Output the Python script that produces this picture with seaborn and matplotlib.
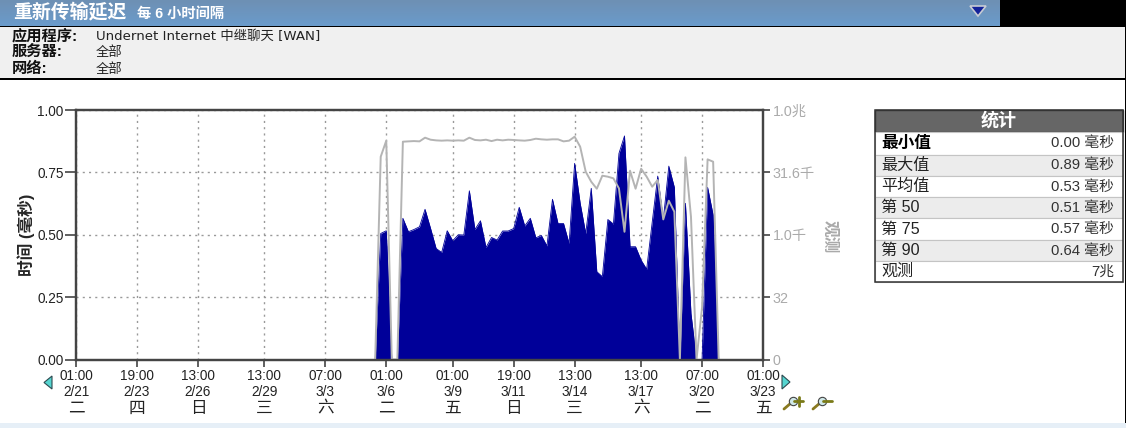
import numpy as np
import pandas as pd
import seaborn as sns
import matplotlib.dates as mdates
import matplotlib.pyplot as plt
from matplotlib.patches import Polygon, Rectangle

# values, one sample every 6 hours starting 3/5 13:00
retrans_ms = [0, .505, .516, 0, 0, .566, .512, .521, .532, .602, .525, .445, .429, .516, .476, .500,
              .499, .676, .521, .556, .449, .489, .479, .515, .515, .525, .610, .535, .566, .488,
              .497, .455, .642, .545, .545, .465, .786, .626, .505, .686, .352, .332, .561, .543,
              .826, .896, .452, .452, .398, .362, .550, .735, .559, .775, .690, 0, .626, .184,
              0, 0, .690, .579, 0]
# 1 sits on the bottom of the log axis, which the chart labels 0
observations = [1, 75300, 183000, 1, 1, 173000, 176000, 179000, 176000, 216000, 193000, 186000,
                183000, 186000, 183000, 186000, 183000, 216000, 190000, 186000, 193000, 179000,
                193000, 186000, 193000, 190000, 186000, 183000, 190000, 204000, 197000, 193000,
                197000, 197000, 176000, 183000, 228000, 131000, 32800, 18800, 12800, 26300, 24900,
                22700, 13000, 1180, 34700, 12800, 38700, 24900, 14300, 20700, 2340, 6580, 3570, 1,
                72600, 2710, 1, 18, 65000, 57100, 1]

tick_times = ['2012-02-21 01:00', '2012-02-23 19:00', '2012-02-26 13:00', '2012-02-29 13:00',
              '2012-03-03 07:00', '2012-03-06 01:00', '2012-03-09 01:00', '2012-03-11 19:00',
              '2012-03-14 13:00', '2012-03-17 13:00', '2012-03-20 07:00', '2012-03-23 01:00']
tick_hours = ['01:00', '19:00', '13:00', '13:00', '07:00', '01:00', '01:00', '19:00', '13:00', '13:00', '07:00', '01:00']
tick_dates = ['2/21', '2/23', '2/26', '2/29', '3/3', '3/6', '3/9', '3/11', '3/14', '3/17', '3/20', '3/23']
tick_days = ['二', '四', '日', '三', '六', '二', '五', '日', '三', '六', '二', '五']

left_ticks = [0, .25, .5, .75, 1]
left_labels = ['0.00', '0.25', '0.50', '0.75', '1.00']
right_ticks = [1, 10 ** 1.5, 1e3, 10 ** 4.5, 1e6]
right_labels = ['0', '32', '1.0千', '31.6千', '1.0兆']

info_keys = ['应用程序:', '服务器:', '网络:']
info_values = ['Undernet Internet 中继聊天 [WAN]', '全部', '全部']
stat_names = ['最小值', '最大值', '平均值', '第 50', '第 75', '第 90', '观测']
stat_values = ['0.00 毫秒', '0.89 毫秒', '0.53 毫秒', '0.51 毫秒', '0.57 毫秒', '0.64 毫秒', '7兆']

sns.set_style('white')
FONTS = ['Liberation Sans', 'Noto Sans CJK SC']
plt.rcParams['font.family'] = FONTS

W, H = 1126, 428
df = pd.DataFrame({'time': pd.date_range('2012-03-05 13:00', periods=len(retrans_ms), freq='6h'),
                   'ms': retrans_ms, 'obs': observations})
ticks = pd.to_datetime(tick_times)

fig = plt.figure(figsize=(W / 100, H / 100), dpi=100, facecolor='white')

# page furniture, drawn in pixel coordinates
bg = fig.add_axes([0, 0, 1, 1], zorder=0)
bg.set_xlim(0, W)
bg.set_ylim(H, 0)
bg.axis('off')

bg.add_patch(Rectangle((1000, 0), 126, 26, color='black', lw=0))
grad = np.linspace(0, 1, 26)[:, None, None]
c1, c2 = np.array([0x6e, 0x90, 0xb4]) / 255, np.array([0x6a, 0x9b, 0xcb]) / 255
bg.imshow(c1 + (c2 - c1) * grad, extent=(0, 1000, 26, 0), aspect='auto', zorder=1)
bg.set_xlim(0, W)
bg.set_ylim(H, 0)
bg.add_patch(Rectangle((0, 27), 1125, 51, color='#f0f0f0', lw=0))
bg.add_patch(Rectangle((0, 26), 1126, 1.2, color='black', lw=0))
bg.add_patch(Rectangle((0, 78), 1126, 1.8, color='black', lw=0))
bg.add_patch(Rectangle((1125, 26), 1, 397, color='black', lw=0))
bg.add_patch(Rectangle((0, 423), W, 5, color='#e6eff7', lw=0))
bg.add_patch(Polygon([[970, 6], [986, 6], [978, 16]], fc='#14239a', ec='#c8ccd4', lw=1.2, zorder=3))

bg.text(13, 13, '重新传输延迟', color='white', fontsize=13.6, fontweight='bold', va='center', zorder=4)
bg.text(137, 14, '每 6 小时间隔', color='white', fontsize=10.3, fontweight='bold', va='center', zorder=4)
for key, value, y in zip(info_keys, info_values, [36, 52, 69]):
    bg.text(12, y, key, fontsize=11, fontweight='bold', color='#111111', va='center')
    bg.text(96, y, value, fontsize=9.6, color='#222222', va='center',
            family=['DejaVu Sans', 'Noto Sans CJK SC'])

# stats table
bg.add_patch(Rectangle((875, 110), 248, 22, fc='#666666', ec='#333333', lw=1, zorder=2))
bg.text(999, 120.5, '统计', color='white', fontsize=13, fontweight='bold', ha='center', va='center', zorder=3)
edges = [132, 155, 176, 197, 218, 240, 261, 282]
for i, (name, value) in enumerate(zip(stat_names, stat_values)):
    fc = '#ececec' if i % 2 else 'white'
    bg.add_patch(Rectangle((875, edges[i]), 248, edges[i + 1] - edges[i], fc=fc, ec='#c4c4c4', lw=0.8, zorder=2))
    y = (edges[i] + edges[i + 1]) / 2
    bg.text(881, y, name, fontsize=11.6 if i else 12, color='black' if i == 0 else '#222222',
            fontweight='bold' if i == 0 else 'normal', va='center', zorder=3)
    bg.text(1114, y, value, fontsize=10.7, color='#333333', ha='right', va='center', zorder=3)
bg.add_patch(Rectangle((875, 110), 248, 172, fc='none', ec='#333333', lw=1.1, zorder=4))

# paging arrows
for pts in ([[52, 376], [52, 389], [44, 382.5]], [[782, 375], [782, 389], [790, 382]]):
    bg.add_patch(Polygon(pts, fc='#55d5d0', ec='#2d4a50', lw=0.8, zorder=3))

# zoom icons
for x0, plus in ((784, True), (813, False)):
    bg.plot([x0, x0 + 7], [409, 403], color='#8a7a20', lw=2, zorder=3)
    bg.plot([x0 + 8.5], [401], 'o', ms=6, mfc='#cfe8e8', mec='#444444', mew=0.8, zorder=4)
    bg.plot([x0 + 10, x0 + 19], [401, 401], color='#7a7a18', lw=2, zorder=5)
    if plus:
        bg.plot([x0 + 14.5, x0 + 14.5], [396.5, 405.5], color='#7a7a18', lw=2, zorder=5)

bg.text(26, 235, '时间 (毫秒)', rotation=90, fontsize=12, fontweight='bold', ha='center', va='center')
bg.text(830, 237, '观测', rotation=270, fontsize=12, fontweight='bold', color='#aaaaaa', ha='center', va='center')

# the chart itself
ax = fig.add_axes([76 / W, 1 - 359.5 / H, 687 / W, 249.5 / H], zorder=2)
ax.set_facecolor('white')
ax.fill_between(df['time'], df['ms'], 0, color='#000099', lw=0, zorder=2)
sns.lineplot(data=df, x='time', y='ms', color='#000099', lw=0.6, ax=ax, zorder=2)
ax.set_xlim(ticks[0], ticks[-1])
ax.set_ylim(0, 1)
ax.set_xticks(ticks)
ax.set_xticklabels([f'{h}\n{d}' for h, d in zip(tick_hours, tick_dates)],
                   fontsize=9.8, color='#222222', linespacing=1.12)
ax.set_yticks(left_ticks)
ax.set_yticklabels(left_labels, fontsize=9.8, color='#222222')
ax.set_xlabel('')
ax.set_ylabel('')
ax.set_axisbelow(True)
ax.grid(True, color='#999999', ls=(0, (1.5, 3)), lw=1)
ax.tick_params(axis='x', bottom=True, length=5, width=1.2, color='#444444', pad=2)
ax.tick_params(axis='y', left=True, length=8, width=1.2, color='#444444', pad=1)
# weekday row sits under each tick label, in a larger size
for t, day in zip(mdates.date2num(ticks), tick_days):
    ax.annotate(day, (t, 0), xycoords=ax.get_xaxis_transform(), xytext=(0, -35), textcoords='offset points',
                ha='center', va='center', fontsize=12, color='#222222', annotation_clip=False)

ax2 = ax.twinx()
sns.lineplot(data=df, x='time', y='obs', color='#b4b4b4', lw=1.4, ax=ax2)
ax2.set_yscale('log')
ax2.set_ylim(1, 1e6)
ax2.set_yticks(right_ticks)
ax2.set_yticklabels(right_labels, fontsize=10.3, color='#aaaaaa')
ax2.minorticks_off()
ax2.set_xlabel('')
ax2.set_ylabel('')
ax2.tick_params(axis='y', right=True, length=5, width=1.2, color='#444444', pad=2)

for a in (ax, ax2):
    for spine in a.spines.values():
        spine.set_color('#444444')
        spine.set_linewidth(1.6)

fig.savefig('out.png', dpi=100)
